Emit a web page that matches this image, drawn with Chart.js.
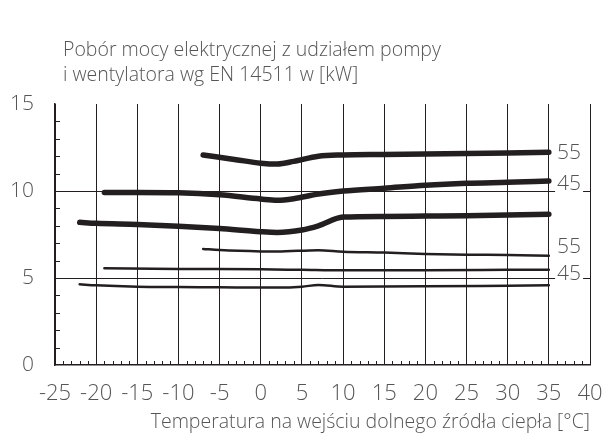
<!DOCTYPE html>
<html lang="pl">
<head>
<meta charset="UTF-8">
<title>Pobór mocy</title>
<script src="https://cdn.jsdelivr.net/npm/chart.js"></script>
<style>
    body { margin: 0; padding: 0; background: #FFF; }
    #wrap { width: 604px; height: 440px; }
</style>
</head>
<body>
<div id="wrap"><canvas id="wykres" width="604" height="440"></canvas></div>
<script>
    // dane (x = temperatura [°C], y = moc [kW])
    const tempA = [-7, -3, 0, 2, 4, 7, 10, 15, 20, 25, 30, 35];
    const mocA  = [12.07, 11.8, 11.6, 11.55, 11.7, 12.0, 12.07, 12.1, 12.13, 12.16, 12.19, 12.22];

    const tempB = [-19, -15, -10, -5, 0, 2, 4, 7, 10, 15, 20, 25, 30, 35];
    const mocB  = [9.92, 9.92, 9.9, 9.78, 9.54, 9.47, 9.56, 9.83, 10.0, 10.16, 10.33, 10.44, 10.5, 10.57];

    const tempC = [-22, -20, -15, -10, -5, 0, 2, 5, 7, 10, 15, 20, 25, 30, 35];
    const mocC  = [8.2, 8.14, 8.08, 7.98, 7.84, 7.66, 7.62, 7.76, 8.0, 8.5, 8.54, 8.56, 8.58, 8.62, 8.66];

    const tempD = [-7, -5, 0, 2, 7, 10, 15, 20, 25, 30, 35];
    const mocD  = [6.67, 6.61, 6.53, 6.52, 6.6, 6.51, 6.46, 6.38, 6.34, 6.32, 6.28];

    const tempE = [-19, -10, 0, 5, 10, 20, 30, 35];
    const mocE  = [5.56, 5.52, 5.5, 5.47, 5.44, 5.45, 5.47, 5.48];

    const tempF = [-22, -20, -15, -10, -5, 0, 2, 5, 7, 10, 20, 30, 35];
    const mocF  = [4.64, 4.58, 4.5, 4.48, 4.47, 4.45, 4.45, 4.5, 4.6, 4.5, 4.52, 4.56, 4.58];

    const etykietyPrawe = ['55', '45', '55', '45'];
    const etykietyY     = [12.2, 10.4, 6.8, 5.25];

    const tytulY = ['Pobór mocy elektrycznej z udziałem pompy', 'i wentylatora wg EN 14511 w [kW]'];
    const tytulX = 'Temperatura na wejściu dolnego źródła ciepła [°C]';

    const kolorLinii = '#231f20';
    const kolorTekstu = '#555557';
    const czcionka = "'Open Sans', 'Liberation Sans', sans-serif";

    function punkty(xs, ys) {
        return xs.map(function (x, i) { return { x: x, y: ys[i] }; });
    }

    function seria(xs, ys, gruba) {
        return {
            data: punkty(xs, ys),
            borderColor: kolorLinii,
            borderWidth: gruba ? 5.5 : 2.5,
            borderCapStyle: 'round',
            pointRadius: 0,
            tension: 0.4,
            cubicInterpolationMode: 'monotone',
            fill: false
        };
    }

    // podziałka wewnętrzna, opisy krzywych i tytuły
    const dodatki = {
        id: 'dodatki',
        afterDraw(chart) {
            const ctx = chart.ctx;
            const sx = chart.scales.x;
            const sy = chart.scales.y;
            const ca = chart.chartArea;
            ctx.save();
            ctx.strokeStyle = kolorLinii;
            ctx.lineWidth = 1;
            ctx.beginPath();
            for (let v = 1; v < 15; v++) {
                if (v % 5 === 0) continue;
                const py = Math.round(sy.getPixelForValue(v)) + 0.5;
                ctx.moveTo(ca.left, py);
                ctx.lineTo(ca.left + 5, py);
            }
            for (let v = -24; v < 40; v++) {
                if (v % 5 === 0) continue;
                const px = Math.round(sx.getPixelForValue(v)) + 0.5;
                ctx.moveTo(px, ca.bottom);
                ctx.lineTo(px, ca.bottom - 4);
            }
            ctx.stroke();

            // opisy krzywych po prawej stronie
            ctx.font = '300 21px ' + czcionka;
            ctx.textBaseline = 'middle';
            ctx.textAlign = 'left';
            const lx = sx.getPixelForValue(36);
            etykietyPrawe.forEach(function (t, i) {
                const py = sy.getPixelForValue(etykietyY[i]);
                const w = ctx.measureText(t).width;
                ctx.fillStyle = '#FFF';
                ctx.fillRect(lx - 2, py - 11, w + 4, 22);
                ctx.fillStyle = kolorTekstu;
                ctx.fillText(t, lx, py);
            });

            // tytuł osi Y
            ctx.font = '300 19.5px ' + czcionka;
            ctx.textBaseline = 'alphabetic';
            ctx.fillText(tytulY[0], 63, 56);
            ctx.fillText(tytulY[1], 63, 81);

            // tytuł osi X
            ctx.textAlign = 'right';
            ctx.fillText(tytulX, ca.right, 428);
            ctx.restore();
        }
    };

    new Chart(document.getElementById('wykres'), {
        type: 'line',
        data: {
            datasets: [
                seria(tempA, mocA, true),
                seria(tempB, mocB, true),
                seria(tempC, mocC, true),
                seria(tempD, mocD, false),
                seria(tempE, mocE, false),
                seria(tempF, mocF, false)
            ]
        },
        options: {
            responsive: false,
            animation: false,
            layout: { padding: { top: 104, right: 14, left: 0, bottom: 0 } },
            plugins: {
                legend: { display: false },
                title: { display: false },
                tooltip: { enabled: false }
            },
            scales: {
                x: {
                    type: 'linear',
                    min: -25,
                    max: 40,
                    afterFit(scale) {
                        scale.height = 75;
                        scale.paddingLeft = 0;
                        scale.paddingRight = 0;
                    },
                    ticks: {
                        stepSize: 5,
                        padding: 16,
                        color: kolorTekstu,
                        font: { family: czcionka, size: 22, weight: '300' }
                    },
                    grid: {
                        drawTicks: false,
                        color: kolorLinii,
                        lineWidth: 1
                    },
                    border: { color: kolorLinii, width: 1.5 }
                },
                y: {
                    min: 0,
                    max: 15,
                    afterFit(scale) {
                        scale.width = 55;
                        scale.paddingTop = 0;
                        scale.paddingBottom = 0;
                    },
                    ticks: {
                        stepSize: 5,
                        padding: 21,
                        color: kolorTekstu,
                        font: { family: czcionka, size: 21, weight: '300' }
                    },
                    grid: {
                        drawTicks: false,
                        color: function (c) {
                            const v = c.tick ? c.tick.value : 0;
                            return (v === 5 || v === 10) ? kolorLinii : 'rgba(0,0,0,0)';
                        },
                        lineWidth: 1
                    },
                    border: { color: kolorLinii, width: 1.5 }
                }
            }
        },
        plugins: [dodatki]
    });
</script>
</body>
</html>
